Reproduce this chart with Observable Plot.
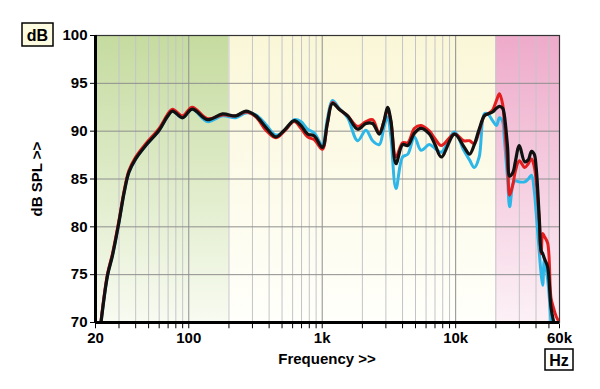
<!DOCTYPE html>
<html><head><meta charset="utf-8">
<script src="https://cdn.jsdelivr.net/npm/d3@7"></script>
<script src="https://cdn.jsdelivr.net/npm/@observablehq/plot@0.6"></script>
<style>
body{margin:0;background:#fff;}
#chart{width:600px;height:389px;}
</style></head><body><div id="chart"></div>
<script>
const freq = [22, 24.6, 26.8, 30, 32.8, 35.6, 40, 47.6, 60, 69,
  75.5, 89.7, 106, 138, 179, 225, 268, 318, 378, 449,
  520, 617, 692, 777, 872, 1002, 1093, 1193, 1339, 1550,
  1842, 2126, 2385, 2674, 2900, 3088, 3270, 3570, 4000, 4380,
  4910, 5500, 6360, 7000, 7800, 9800, 11500, 12700, 13800, 15000,
  16400, 17400, 18900, 20200, 21300, 22500, 23100, 24500, 25400, 26900,
  28000, 30000, 32900, 35000, 37000, 38800, 40100, 42400, 43700, 44900,
  46200, 48900, 51800, 54200, 56800, 60000];

const dbBlack = [70, 74.9, 77, 80.5, 83.6, 85.7, 87.1, 88.5, 90.1, 91.5,
  92.1, 91.4, 92.3, 91.2, 91.8, 91.6, 92.1, 91.6, 90.4, 89.4,
  90.1, 91.1, 90.6, 89.7, 89.5, 88.3, 90.8, 92.9, 92.3, 91.6,
  90.2, 90.8, 90.8, 89.7, 91.0, 92.5, 91.1, 86.6, 88.6, 88.5,
  89.8, 90.3, 89.7, 88.6, 87.3, 89.7, 88.4, 87.6, 88.6, 90.2,
  91.6, 91.8, 92.0, 92.4, 92.6, 92.4, 91.8, 88.3, 85.3, 85.7,
  86.8, 88.5, 86.8, 87.0, 87.9, 87.6, 86.2, 80.7, 77.5, 77.2,
  76.7, 75.8, 71.6, 70.1, null, null];

const dbRed = [70.2, 75.1, 77.2, 80.7, 83.8, 85.9, 87.3, 88.7, 90.3, 91.7,
  92.3, 91.6, 92.5, 91.3, 91.7, 91.6, 92.0, 91.5, 90.1, 89.3,
  90.0, 91.0, 90.3, 89.4, 89.1, 88.1, 90.8, 93.0, 92.3, 91.6,
  90.5, 91.0, 91.2, 89.8, 91.0, 92.3, 91.0, 87.3, 88.8, 88.8,
  90.3, 90.6, 90.0, 89.2, 88.5, 89.7, 89.0, 89.0, 88.7, 90.0,
  91.6, 91.8, 92.2, 93.2, 93.9, 92.8, 91.1, 86.5, 83.3, 84.5,
  85.8, 86.9, 86.2, 86.6, 87.1, 86.3, 84.8, 80.5, 77.2, 79.3,
  79.0, 78.3, 72.6, 71.5, 70.6, 70.0];

const dbCyan = [70, 74.9, 77, 80.5, 83.6, 85.7, 87.1, 88.5, 90.1, 91.5,
  92.1, 91.4, 92.3, 91.0, 91.6, 91.4, 91.9, 91.7, 90.7, 89.6,
  90.0, 91.2, 91.0, 90.2, 89.8, 88.6, 91.3, 93.2, 92.4, 91.4,
  89.0, 90.1, 89.0, 88.6, 90.4, 91.5, 89.4, 84.0, 87.3, 87.6,
  89.4, 88.0, 88.6, 88.2, 87.8, 89.9, 88.0, 87.0, 86.2, 87.3,
  91.8, 91.8, 91.1, 90.6, 91.4, 91.0, 89.4, 85.0, 82.1, 84.5,
  84.8, 84.7, 84.7, 85.0, 85.4, 83.8, 81.5, 77.2, 75.1, 73.9,
  76.5, 74.5, 70.0, null, null, null];

const bandEdges = [20, 200, 20000, 60000];
const yTicks = [70, 75, 80, 85, 90, 95, 100];
const yGrid = [75, 80, 85, 90, 95];
const xLabelTicks = [20, 100, 1000, 10000, 60000];
const xLabels = ["20", "100", "1k", "10k", "60k"];
const gridMinor = [30, 40, 50, 60, 70, 80, 90, 200, 300, 400, 500, 600, 700, 800, 900,
  2000, 3000, 4000, 5000, 6000, 7000, 8000, 9000, 20000, 30000, 40000, 50000];
const gridMajor = [100, 1000, 10000];
const tickPositions = [20, ...gridMinor, ...gridMajor, 60000];

const rowsOf = vals => freq.map((f, i) => ({f, db: vals[i]})).filter(d => d.db != null);
const bands = bandEdges.slice(0, -1).map((e, i) => ({x1: e, x2: bandEdges[i + 1]}));
const gradients = [
  {id: "gGreen", top: "#c5db9f", bottom: "#f8fbf1"},
  {id: "gYellow", top: "#faf7d8", bottom: "#fffffb"},
  {id: "gPink", top: "#eeaaca", bottom: "#fcf1f6"}
];

const lineOpts = {x: "f", y: "db", curve: "catmull-rom", clip: true, strokeLinejoin: "round", strokeLinecap: "round"};

const svg = Plot.plot({
  width: 600, height: 389,
  marginLeft: 95, marginRight: 41, marginTop: 35, marginBottom: 67,
  style: {fontFamily: "'Liberation Sans', Arial, sans-serif", fontSize: "15px", fontWeight: "bold", color: "black", background: "white", overflow: "visible"},
  x: {type: "log", domain: [20, 60000], axis: null},
  y: {domain: [70, 100]},
  marks: [
    ...bands.map((b, i) => Plot.rect([b], {x1: "x1", x2: "x2", y1: 70, y2: 100, fill: `url(#${gradients[i].id})`})),
    Plot.ruleX(gridMinor, {stroke: "#c4c4c8", strokeWidth: 1}),
    Plot.ruleX(gridMajor, {stroke: "#8e8e8e", strokeWidth: 1}),
    Plot.ruleY(yGrid, {stroke: "#8e8e8e", strokeWidth: 1}),
    Plot.line(rowsOf(dbCyan), {...lineOpts, stroke: "#2db6e8", strokeWidth: 3}),
    Plot.line(rowsOf(dbRed), {...lineOpts, stroke: "#e41e1e", strokeWidth: 3}),
    Plot.line(rowsOf(dbBlack), {...lineOpts, stroke: "#111111", strokeWidth: 3.2}),
    Plot.frame({stroke: "#333", strokeWidth: 1.2}),
    Plot.ruleX(tickPositions, {y1: 70, y2: 69.5, dy: 1.5, stroke: "black", strokeWidth: 1}),
    Plot.ruleX([20], {stroke: "black", strokeWidth: 3}),
    Plot.ruleY([70], {stroke: "black", strokeWidth: 3}),
    Plot.axisY(yTicks, {tickSize: 5, tickPadding: 3, label: null, fontSize: 15, fontWeight: "bold"}),
    Plot.text(xLabelTicks, {x: d => d, text: d => xLabels[xLabelTicks.indexOf(d)], frameAnchor: "bottom", lineAnchor: "top", dy: 10, fontSize: 15, fontWeight: "bold", fill: "black"})
  ]
});

const s = d3.select(svg);
const defs = s.insert("defs", ":first-child");
gradients.forEach(g => {
  const lg = defs.append("linearGradient").attr("id", g.id).attr("x1", 0).attr("y1", 0).attr("x2", 0).attr("y2", 1);
  lg.append("stop").attr("offset", "0%").attr("stop-color", g.top);
  lg.append("stop").attr("offset", "100%").attr("stop-color", g.bottom);
});

const font = "'Liberation Sans', Arial, sans-serif";
s.append("text").attr("x", 327).attr("y", 364).attr("text-anchor", "middle")
  .attr("font-family", font).attr("font-size", 15).attr("font-weight", "bold").attr("fill", "black").text("Frequency >>");
s.append("text").attr("transform", "translate(42,179) rotate(-90)").attr("text-anchor", "middle")
  .attr("font-family", font).attr("font-size", 15).attr("font-weight", "bold").attr("fill", "black").text("dB SPL >>");
s.append("rect").attr("x", 22).attr("y", 23).attr("width", 31).attr("height", 23)
  .attr("fill", "#fdfbe0").attr("stroke", "black").attr("stroke-width", 1.5);
s.append("text").attr("x", 37.5).attr("y", 40.5).attr("text-anchor", "middle")
  .attr("font-family", font).attr("font-size", 16).attr("font-weight", "bold").attr("fill", "black").text("dB");
s.append("rect").attr("x", 545).attr("y", 349).attr("width", 28).attr("height", 21)
  .attr("fill", "white").attr("stroke", "black").attr("stroke-width", 1.5);
s.append("text").attr("x", 559).attr("y", 365.5).attr("text-anchor", "middle")
  .attr("font-family", font).attr("font-size", 16).attr("font-weight", "bold").attr("fill", "black").text("Hz");

document.getElementById("chart").appendChild(svg);
</script>
</body></html>
